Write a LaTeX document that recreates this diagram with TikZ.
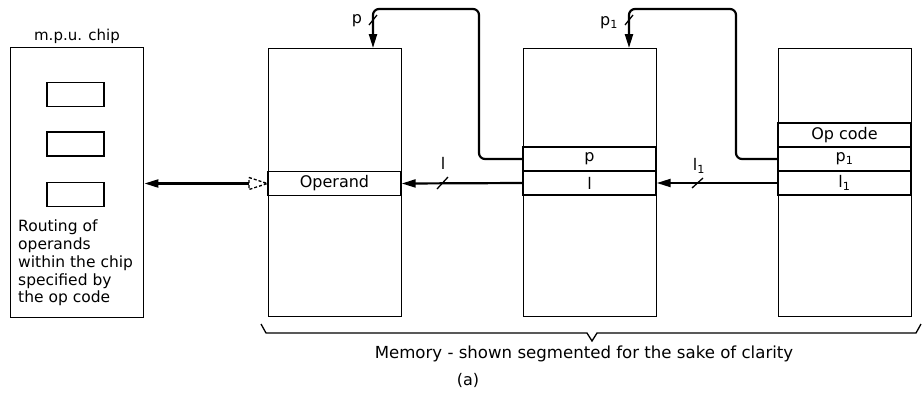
\documentclass[tikz,border=0pt]{standalone}
\usepackage{fontspec}
\setmainfont{DejaVu Sans}
\usetikzlibrary{arrows.meta}
\begin{document}
\begin{tikzpicture}[x=1pt,y=-1pt,
  box/.style={draw, line width=1.4pt, minimum width=133pt, inner sep=0pt, anchor=north west},
  row/.style={draw, line width=1.4pt, minimum width=133pt, minimum height=24pt, inner sep=0pt, font=\fontsize{16}{18}\selectfont},
  small/.style={draw, line width=1.5pt, minimum width=57pt, minimum height=24pt, inner sep=0pt},
  conn/.style={line width=2.2pt, -{Triangle[length=14pt,width=8pt]}},
  lbl/.style={font=\fontsize{16}{18}\selectfont, inner sep=0pt},
  tick/.style={line width=1.3pt}]
\useasboundingbox (0,0) rectangle (923,392);
% chip
\node[box, minimum height=270pt] (chip) at (10,47) {};
\node[lbl, font=\fontsize{15}{17}\selectfont] (chiplbl) at (77,36) {m.p.u. chip};
\node[small] (r1) at (75.5,94.5) {};
\node[small] (r2) at (75.5,144) {};
\node[small] (r3) at (75.5,194.5) {};
\node[lbl, align=left, anchor=north west, font=\fontsize{15.5}{17.7}\selectfont] (route) at (18,220)
  {Routing of\\operands\\within the chip\\specified by\\the op code};
% memory boxes
\node[box, minimum height=268pt] (m1) at (268,48) {};
\node[box, minimum height=268pt] (m2) at (523,48) {};
\node[box, minimum height=268pt] (m3) at (778,48) {};
\node[row] (op) at (334.5,183.5) {Operand};
\node[row] (p2) at (589.5,159) {p};
\node[row] (l2) at (589.5,183) {l};
\node[row] (oc3) at (844.5,135) {Op code};
\node[row] (p3) at (844.5,159) {p\textsubscript{1}};
\node[row] (l3) at (844.5,183) {l\textsubscript{1}};
% chip <-> operand
\coordinate (dh) at (249,183.5);
\draw[conn] (dh) -- (chip.east |- op.west);
\draw[line width=1.3pt, dash pattern=on 3pt off 2pt] (249,177.5) -- (op.west) -- (249,189.5) -- cycle;
% l and l1
\draw[conn] (l2.west) -- (op.east);
\draw[conn] (l3.west) -- (l2.east);
\draw[tick] (437,189) -- (448,177);
\draw[tick] (692,188) -- (703,178);
\node[lbl] (llbl) at (443,163) {l};
\node[lbl] (l1lbl) at (699,166) {l\textsubscript{1}};
% p loops
\coordinate (pin1) at (373,48);
\coordinate (pin2) at (629,48);
\draw[conn, rounded corners=6pt] (p2.west) -- (479,159) -- (479,9) -- (373,9) -- (pin1);
\draw[conn, rounded corners=6pt] (p3.west) -- (736,159) -- (736,9) -- (629,9) -- (pin2);
\draw[tick] (369,25) -- (377,15);
\draw[tick] (625,25) -- (633,15);
\node[lbl] (plbl) at (357,21) {p};
\node[lbl] (p1lbl) at (609,23) {p\textsubscript{1}};
% brace
\draw[line width=1.3pt] (261,324) -- (266,333) -- (587,333) -- (592,341) -- (597,333) -- (916,333) -- (921,324);
\node[lbl, font=\fontsize{16.6}{18}\selectfont] (mem) at (584,354) {Memory - shown segmented for the sake of clarity};
\node[lbl] (cap) at (468,380) {(a)};
\end{tikzpicture}
\end{document}
